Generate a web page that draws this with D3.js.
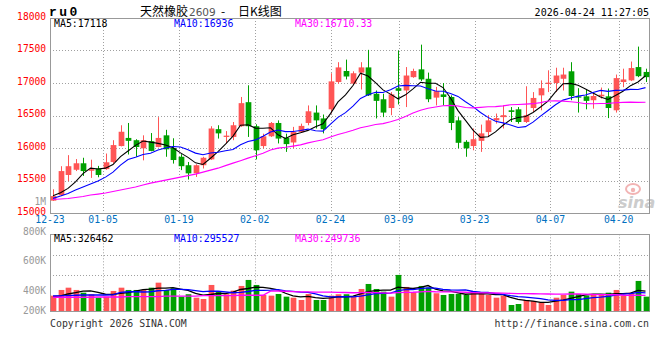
<!DOCTYPE html>
<html><head><meta charset="utf-8">
<script src="https://cdn.jsdelivr.net/npm/d3@7"></script>
<style>body{margin:0;background:#fff}svg{display:block}</style>
</head><body><svg id="c" width="660" height="360"></svg>
<script>
// ---------------- data ----------------
const dates = ["12-23","12-24","12-25","12-26","12-29","12-30","12-31",
"01-05","01-06","01-07","01-08","01-09","01-12","01-13","01-14","01-15","01-16",
"01-19","01-20","01-21","01-22","01-23","01-26","01-27","01-28","01-29","01-30",
"02-02","02-03","02-04","02-05","02-06","02-09","02-10","02-11","02-12","02-13",
"02-24","02-25","02-26","02-27",
"03-02","03-03","03-04","03-05","03-06","03-09","03-10","03-11","03-12","03-13",
"03-16","03-17","03-18","03-19","03-20","03-23","03-24","03-25","03-26","03-27","03-30","03-31",
"04-01","04-02","04-03","04-07","04-08","04-09","04-10","04-13","04-14","04-15","04-16","04-17",
"04-20","04-21","04-22","04-23","04-24"];
const opens = [15190,15275,15585,15665,15765,15650,15685,15675,15785,16030,16155,16120,15995,16105,16015,16195,16000,15865,15735,15610,15735,15825,16290,16170,16170,16335,16705,16335,16030,16180,16385,16160,16085,16245,16385,16545,16455,16595,17015,17185,16990,17160,17240,16835,16750,16615,16920,16885,17090,17210,17065,16775,16825,16785,16425,16095,16030,16110,16245,16425,16475,16580,16595,16400,16615,16810,16985,17000,17065,17180,16795,16795,16735,16795,16795,16580,17015,17040,17245,17170];
const highs = [15365,15720,15890,15830,15850,15820,15725,15915,16120,16350,16385,16135,16195,16230,16475,16280,16150,15905,15785,15750,15865,16335,16350,16260,16400,16785,16965,16365,16220,16400,16425,16220,16325,16375,16655,16655,16515,17150,17320,17360,17180,17320,17510,16885,16835,16860,17500,17245,17220,17590,17160,16940,17000,16810,16475,16120,16300,16360,16505,16530,16655,16630,16630,16950,16860,17040,17195,17235,17235,17320,16920,16900,16860,16930,16915,17130,17220,17330,17560,17220];
const lows = [15185,15260,15490,15645,15570,15540,15550,15665,15760,16025,15900,15865,15810,15950,16010,15865,15760,15660,15515,15555,15685,15815,16145,16070,16120,16325,16170,15825,15995,16170,16070,15940,16000,16240,16350,16300,16225,16530,16990,17055,16965,16900,16800,16455,16475,16505,16670,16630,17080,17030,16705,16655,16655,16275,15995,15865,15965,15940,16170,16375,16300,16400,16375,16385,16555,16580,16860,16860,16885,16735,16545,16595,16605,16760,16460,16545,16935,17030,17090,17015];
const closes = [15260,15645,15720,15765,15645,15675,15585,15780,16045,16250,16110,16015,16120,15955,16155,15980,15815,15720,15610,15735,15850,16300,16225,16190,16350,16690,16335,15965,16180,16385,16145,16060,16245,16340,16565,16425,16290,17025,17240,17100,17150,17240,16810,16725,16545,16825,16880,17115,17185,17055,16750,16875,16785,16385,16080,15995,16135,16225,16425,16460,16505,16555,16400,16505,16770,16920,17005,17115,17130,16800,16775,16725,16800,16820,16615,17075,17055,17230,17105,17090];
const volumes = [248000,340000,377000,340000,296000,271000,215000,232000,324000,377000,340000,340000,340000,377000,458000,340000,368000,232000,271000,215000,194000,421000,313000,271000,329000,405000,502000,421000,259000,248000,275000,232000,215000,178000,275000,178000,178000,248000,271000,271000,232000,356000,437000,356000,313000,232000,583000,389000,303000,405000,377000,287000,259000,275000,275000,259000,324000,275000,259000,215000,248000,97000,113000,178000,162000,141000,97000,215000,259000,313000,275000,248000,259000,259000,296000,340000,248000,296000,486000,232000];
// moving-average values before enough history is visible
const ma5Lead = [15265,15311,15379,15480];
const ma10Lead = [15225,15261,15299,15353,15399,15445,15491,15552,15629];
const ma30Lead = [15207,15215,15222,15238,15253,15276,15291,15307,15330,15353,15376,15399,15430,15460,15483,15506,15529,15552,15575,15598,15629,15660,15690,15729,15767,15805,15844,15882,15920];
const volMa5Lead = [232000,243000,275000,296000];
const volMa10Lead = [243000,245000,250000,255000,259000,259000,259000,259000,262000];
const volMa30Lead = [222000,222000,222000,222000,222000,222000,226000,226000,226000,226000,232000,232000,232000,232000,232000,240000,240000,240000,240000,240000,248000,248000,248000,248000,248000,255000,255000,255000,255000];
const tickDates = ["12-23","01-05","01-19","02-02","02-24","03-09","03-23","04-07","04-20"];
const priceTicks = [15000,15500,16000,16500,17000,17500,18000];
const volTickValues = [1000000,800000,600000,400000,200000];
const volTickLabels = ["1M","800K","600K","400K","200K"];
const legendMain = [["MA5:","17118"],["MA10:","16936"],["MA30:","16710.33"]];
const legendVol = [["MA5:","326462"],["MA10:","295527"],["MA30:","249736"]];
const titleParts = ["天然橡胶","2609","-","日K线图"];
const symbol = "ru0";
const stamp = "2026-04-24 11:27:05";

// ---------------- drawing ----------------
const svg = d3.select("#c");
const n = closes.length;
const L = 50, R = 649;
const mono = "'DejaVu Sans Mono', monospace";
const UP = "#ff5555", DOWN = "#00a000";
const cMA = ["#000000", "#0000ff", "#ff00ff"];

const x = d3.scalePoint().domain(d3.range(n)).range([53, 645.5]);
const gx = d3.scaleLinear().domain([0, n - 1]).range([L, R]);
const y = d3.scaleLinear().domain([15000, 18000]).range([213, 18]);
const yv = d3.scaleLinear().domain([0, 1240000]).range([311, 234.3]);
const yvLab = d3.scaleLinear().domain([400000, 1000000]).range([290.7, 202]);
const bw = x.step() * 0.76;

function ma(arr, k, lead) {
  return arr.map((v, i) => i < k - 1 ? lead[i] : d3.mean(arr.slice(i - k + 1, i + 1)));
}

// grids
const gridC = "#a0a0a0";
const tickIdx = tickDates.map(t => dates.indexOf(t));
svg.append("g").selectAll("line").data(priceTicks.filter(p => p > 15000 && p < 18000)).join("line")
  .attr("x1", L).attr("x2", R).attr("y1", d => Math.round(y(d)) + 0.5).attr("y2", d => Math.round(y(d)) + 0.5)
  .attr("stroke", gridC).attr("stroke-dasharray", "1,2");
svg.append("g").selectAll("line").data(tickIdx.filter(i => i > 0)).join("line")
  .attr("x1", d => Math.round(gx(d)) + 0.5).attr("x2", d => Math.round(gx(d)) + 0.5)
  .attr("y1", y(18000)).attr("y2", y(15000)).attr("stroke", gridC).attr("stroke-dasharray", "1,2");
// volume grids
svg.append("g").selectAll("line").data([900000, 575000]).join("line")
  .attr("x1", L).attr("x2", R).attr("y1", d => Math.round(yv(d)) + 0.5).attr("y2", d => Math.round(yv(d)) + 0.5)
  .attr("stroke", gridC).attr("stroke-dasharray", "1,2");
svg.append("g").selectAll("line").data(tickIdx.filter(i => i > 0)).join("line")
  .attr("x1", d => Math.round(gx(d)) + 0.5).attr("x2", d => Math.round(gx(d)) + 0.5)
  .attr("y1", yv.range()[1]).attr("y2", yv.range()[0]).attr("stroke", gridC).attr("stroke-dasharray", "1,2");

// watermark
const wm = svg.append("g").attr("transform", `translate(${R - 30},${y(15000) - 9})`);
wm.append("ellipse").attr("cx", 14).attr("cy", -15).attr("rx", 7).attr("ry", 5).attr("fill", "none").attr("stroke", "#f2b4b4").attr("stroke-width", 2);
wm.append("circle").attr("cx", 14).attr("cy", -14).attr("r", 2.2).attr("fill", "#f2b4b4");
wm.append("text").attr("x", -1).attr("y", 4).attr("font-family", "'DejaVu Sans', sans-serif").attr("font-style", "italic").attr("font-weight", "bold")
  .attr("font-size", 16).attr("fill", "#cccccc").text("sina");

// frames
svg.append("rect").attr("x", L + 0.5).attr("y", Math.round(y(18000)) + 0.5).attr("width", R - L)
  .attr("height", Math.round(y(15000)) - Math.round(y(18000))).attr("fill", "none").attr("stroke", "#999");
svg.append("rect").attr("x", L + 0.5).attr("y", Math.round(yv.range()[1]) + 0.5).attr("width", R - L)
  .attr("height", Math.round(yv.range()[0]) - Math.round(yv.range()[1])).attr("fill", "none").attr("stroke", "#999");

// candles
const cg = svg.append("g");
d3.range(n).forEach(i => {
  const up = closes[i] >= opens[i];
  const col = up ? UP : DOWN;
  const cx = Math.round(x(i)) + 0.5;
  cg.append("line").attr("x1", cx).attr("x2", cx).attr("y1", y(highs[i])).attr("y2", y(lows[i])).attr("stroke", col);
  const top = y(Math.max(opens[i], closes[i])), bot = y(Math.min(opens[i], closes[i]));
  cg.append("rect").attr("x", cx - bw / 2).attr("y", top).attr("width", bw).attr("height", Math.max(1, bot - top)).attr("fill", col);
});

// MA lines
const line = d3.line().x((d, i) => x(i)).y(d => y(d));
[ma(closes, 5, ma5Lead), ma(closes, 10, ma10Lead), ma(closes, 30, ma30Lead)].forEach((s, k) => {
  svg.append("path").attr("d", line(s)).attr("fill", "none").attr("stroke", cMA[k]).attr("stroke-width", 1.1);
});

// volume bars
const vg = svg.append("g");
d3.range(n).forEach(i => {
  const up = closes[i] >= opens[i];
  vg.append("rect").attr("x", Math.round(x(i)) + 0.5 - bw / 2).attr("y", yv(volumes[i])).attr("width", bw)
    .attr("height", yv(0) - yv(volumes[i])).attr("fill", up ? UP : DOWN);
});
const vline = d3.line().x((d, i) => x(i)).y(d => yv(d));
[ma(volumes, 5, volMa5Lead), ma(volumes, 10, volMa10Lead), ma(volumes, 30, volMa30Lead)].forEach((s, k) => {
  svg.append("path").attr("d", vline(s)).attr("fill", "none").attr("stroke", cMA[k]).attr("stroke-width", 1.3);
});

// price labels
svg.append("g").selectAll("text").data(priceTicks).join("text")
  .attr("x", 46).attr("y", d => y(d) - 1.5).attr("dy", "0.35em").attr("text-anchor", "end")
  .attr("font-family", mono).attr("font-size", 9.6).attr("fill", "#ff0000").text(d => d);
// volume labels
svg.append("g").selectAll("text").data(volTickValues).join("text")
  .attr("x", 46).attr("y", d => Math.min(yvLab(d), yv(0))).attr("dy", "0.35em").attr("text-anchor", "end")
  .attr("font-family", mono).attr("font-size", 9.6).attr("fill", "#999").text((d, i) => volTickLabels[i]);
// date labels
svg.append("g").selectAll("text").data(tickIdx).join("text")
  .attr("x", d => gx(d)).attr("y", 220).attr("dy", "0.35em").attr("text-anchor", "middle")
  .attr("font-family", mono).attr("font-size", 9.8).attr("fill", "#0070c0").text((d, i) => tickDates[i]);

// legends
const legX = [54, 174, 295];
legendMain.forEach((d, k) => svg.append("text").attr("x", legX[k]).attr("y", 24).attr("dy", "0.35em")
  .attr("font-family", mono).attr("font-size", 9.9).attr("fill", cMA[k]).text(d[0] + d[1]));
legendVol.forEach((d, k) => svg.append("text").attr("x", legX[k]).attr("y", 238.5).attr("dy", "0.35em")
  .attr("font-family", mono).attr("font-size", 9.9).attr("fill", cMA[k]).text(d[0] + d[1]));

// header
svg.append("text").attr("x", 49).attr("y", 15.5).attr("font-family", "'Liberation Mono', monospace")
  .attr("font-weight", "bold").attr("font-size", 13).attr("letter-spacing", 2.5).attr("fill", "#000").text(symbol);
const cjk = "'Noto Sans CJK SC', sans-serif";
const hy = 15.5;
svg.append("text").attr("x", 140).attr("y", hy).attr("font-family", cjk).attr("font-size", 12).attr("fill", "#000").text(titleParts[0]);
svg.append("text").attr("x", 189).attr("y", hy).attr("font-family", "'DejaVu Sans', sans-serif").attr("font-size", 10.5).attr("fill", "#555").text(titleParts[1]);
svg.append("text").attr("x", 223).attr("y", hy).attr("text-anchor", "middle").attr("font-family", cjk).attr("font-size", 12).attr("fill", "#000").text(titleParts[2]);
svg.append("text").attr("x", 238).attr("y", hy).attr("font-family", cjk).attr("font-size", 12).attr("fill", "#000").text(titleParts[3]);
svg.append("text").attr("x", R).attr("y", 15.5).attr("text-anchor", "end")
  .attr("font-family", mono).attr("font-size", 10).attr("fill", "#000").text(stamp);

// footer
svg.append("text").attr("x", L).attr("y", 323.5).attr("dy", "0.35em").attr("font-family", mono).attr("font-size", 9.9).attr("fill", "#333").text("Copyright 2026 SINA.COM");
svg.append("text").attr("x", R).attr("y", 323.5).attr("dy", "0.35em").attr("text-anchor", "end").attr("font-family", mono).attr("font-size", 9.9).attr("fill", "#333").text("http://finance.sina.com.cn");
</script></body></html>
